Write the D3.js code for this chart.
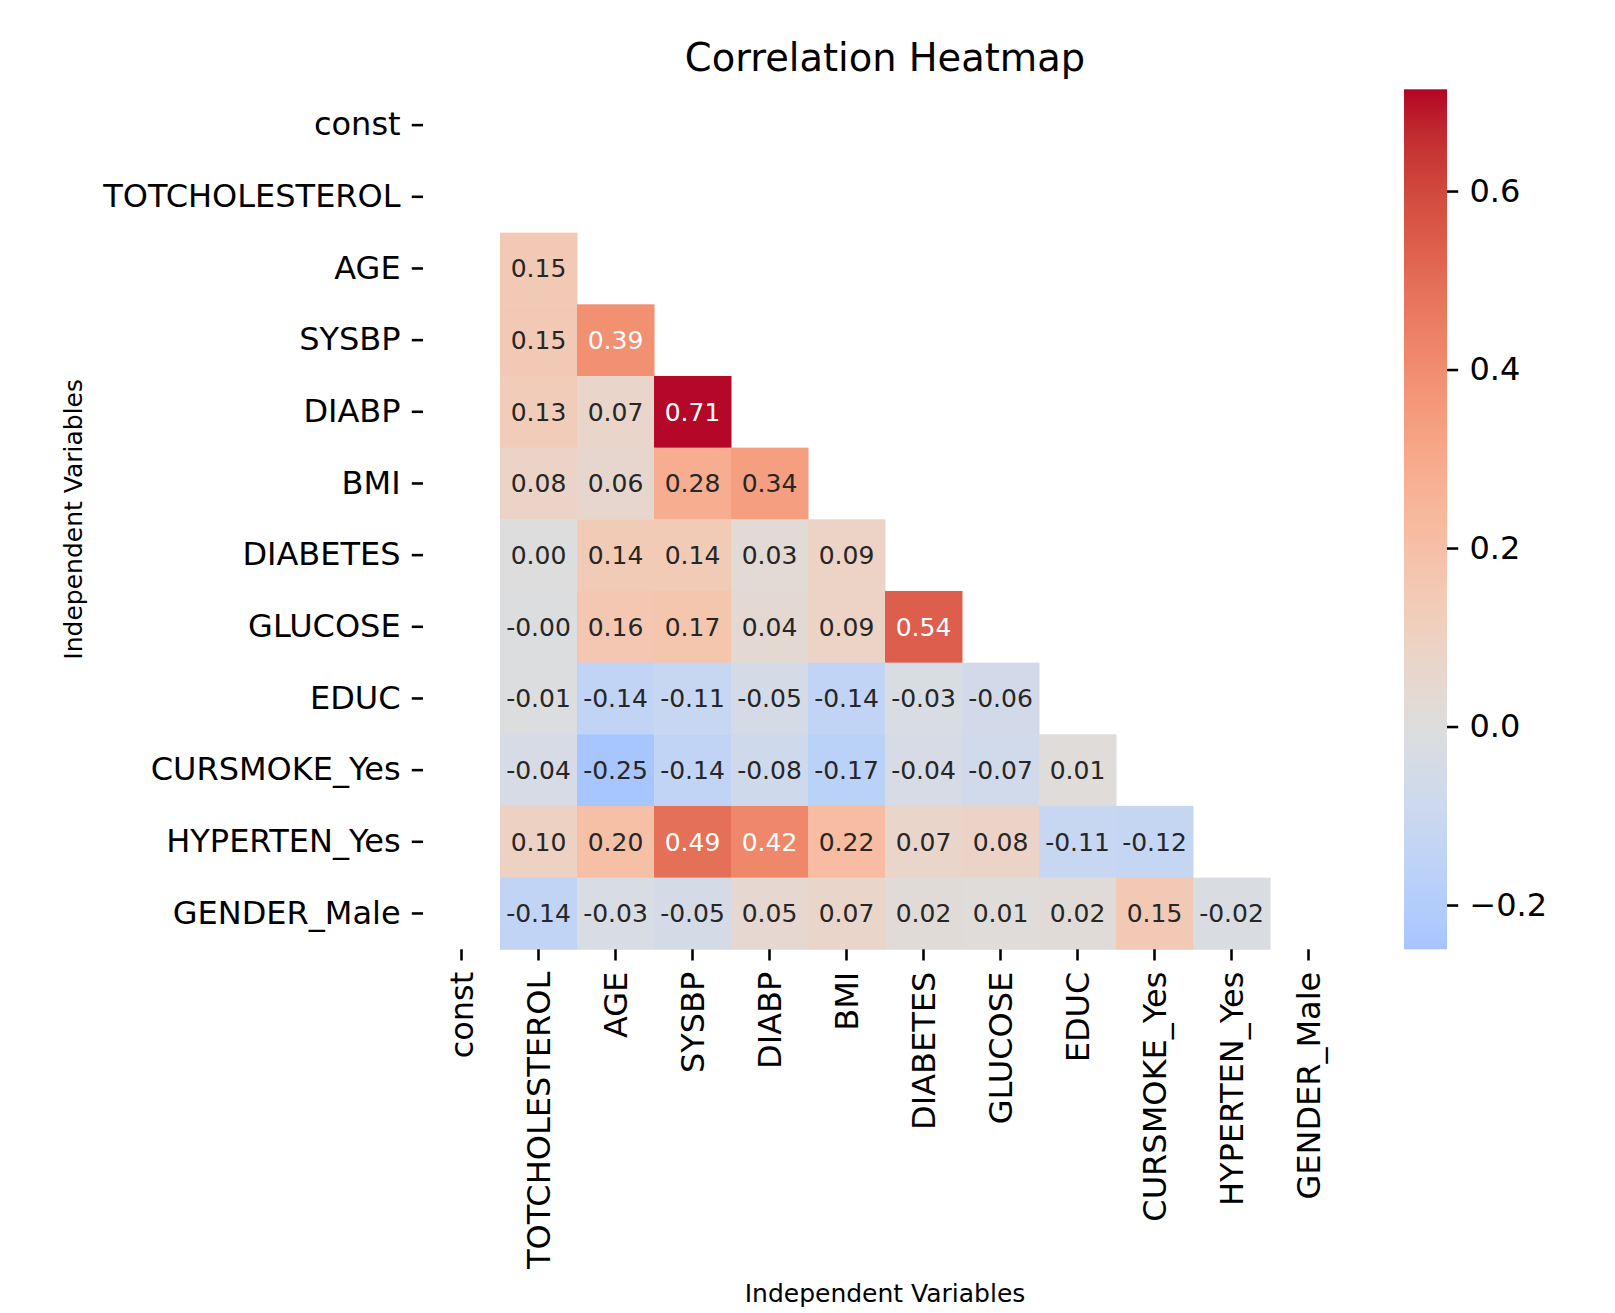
<!DOCTYPE html>
<html>
<head>
<meta charset="utf-8">
<script src="https://cdn.jsdelivr.net/npm/d3@7"></script>
<style>
  body { margin: 0; background: #fff; }
  text { font-family: "DejaVu Sans", sans-serif; }
</style>
</head>
<body>
<svg id="chart" width="1615" height="1313"></svg>
<script>
// ---------- data ----------
const variables = ["const","TOTCHOLESTEROL","AGE","SYSBP","DIABP","BMI","DIABETES","GLUCOSE","EDUC","CURSMOKE_Yes","HYPERTEN_Yes","GENDER_Male"];
// lower-triangle values per row (columns TOTCHOLESTEROL .. row-1); const column is empty
const rowAGE        = [0.15];
const rowSYSBP      = [0.15, 0.39];
const rowDIABP      = [0.13, 0.07, 0.71];
const rowBMI        = [0.08, 0.06, 0.28, 0.34];
const rowDIABETES   = [0.00, 0.14, 0.14, 0.03, 0.09];
const rowGLUCOSE    = [-0.004, 0.16, 0.17, 0.04, 0.09, 0.54];
const rowEDUC       = [-0.01, -0.14, -0.11, -0.05, -0.14, -0.03, -0.06];
const rowCURSMOKE   = [-0.04, -0.25, -0.14, -0.08, -0.17, -0.04, -0.07, 0.01];
const rowHYPERTEN   = [0.10, 0.20, 0.49, 0.42, 0.22, 0.07, 0.08, -0.11, -0.12];
const rowGENDER     = [-0.14, -0.03, -0.05, 0.05, 0.07, 0.02, 0.01, 0.02, 0.15, -0.02];
const colorbarTicks = [-0.2, 0.0, 0.2, 0.4, 0.6];
const colorDomain = [-0.2496, 0.714];   // observed data range (vmin, vmax)
const titleText = "Correlation Heatmap";
const xLabel = "Independent Variables";
const yLabel = "Independent Variables";

const rows = {
  "AGE": rowAGE, "SYSBP": rowSYSBP, "DIABP": rowDIABP, "BMI": rowBMI,
  "DIABETES": rowDIABETES, "GLUCOSE": rowGLUCOSE, "EDUC": rowEDUC,
  "CURSMOKE_Yes": rowCURSMOKE, "HYPERTEN_Yes": rowHYPERTEN, "GENDER_Male": rowGENDER
};
const cells = [];
Object.keys(rows).forEach(r => {
  rows[r].forEach((v, j) => cells.push({ row: r, col: variables[j + 1], value: v }));
});

// ---------- coolwarm colormap (Moreland) ----------
const coolwarmTable = [
 [59,76,192],[68,90,204],[77,104,215],[87,117,225],[98,130,234],[108,142,241],[119,154,247],[130,165,251],
 [141,176,254],[152,185,255],[163,194,255],[174,201,253],[184,208,249],[194,213,244],[204,217,238],[213,219,230],
 [221,221,221],[229,216,209],[236,211,197],[241,204,184],[245,196,172],[247,187,160],[247,177,148],[247,166,135],
 [244,154,123],[241,141,111],[236,127,99],[229,112,88],[222,96,77],[213,80,66],[203,62,56],[192,40,47],[180,4,38]
];
function coolwarm(t) {
  t = Math.max(0, Math.min(1, t));
  const n = coolwarmTable.length - 1;
  const i = Math.min(n - 1, Math.floor(t * n));
  const f = t * n - i;
  const a = coolwarmTable[i], b = coolwarmTable[i + 1];
  return [0,1,2].map(k => a[k] + (b[k] - a[k]) * f);
}
// seaborn center=0 re-centering
const vrange = Math.max(colorDomain[1], -colorDomain[0]);
const norm = d3.scaleLinear().domain([-vrange, vrange]).range([0, 1]);
function colorRGB(v) { return coolwarm(norm(v)); }
function color(v) { const c = colorRGB(v); return d3.rgb(c[0], c[1], c[2]).formatHex(); }
function textColor(v) {
  const lum = colorRGB(v).map(c => {
    c = c / 255; return c <= 0.03928 ? c / 12.92 : Math.pow((c + 0.055) / 1.055, 2.4);
  });
  const L = 0.2126 * lum[0] + 0.7152 * lum[1] + 0.0722 * lum[2];
  return L > 0.408 ? "#262626" : "#ffffff";
}

// ---------- layout ----------
const svg = d3.select("#chart");
const gridLeft = 423, gridRight = 1347, gridTop = 89.3, gridBottom = 949.3;
const tickLen = 11.2, tickPad = 11.2, tickW = 2.56;

const x = d3.scaleBand().domain(variables).range([gridLeft, gridRight]).padding(0);
const y = d3.scaleBand().domain(variables).range([gridTop, gridBottom]).padding(0);

// cells
svg.append("g").selectAll("rect").data(cells).join("rect")
  .attr("x", d => x(d.col)).attr("y", d => y(d.row))
  .attr("width", x.bandwidth() + 0.5).attr("height", y.bandwidth() + 0.5)
  .attr("fill", d => color(d.value));

svg.append("g").selectAll("text").data(cells).join("text")
  .attr("x", d => x(d.col) + x.bandwidth() / 2)
  .attr("y", d => y(d.row) + y.bandwidth() / 2)
  .attr("dy", "0.36em")
  .attr("text-anchor", "middle")
  .attr("font-size", 25)
  .attr("fill", d => textColor(d.value))
  .text(d => d.value.toFixed(2));

// y axis
const yAxis = svg.append("g").attr("transform", `translate(${gridLeft},0)`)
  .call(d3.axisLeft(y).tickSize(tickLen).tickPadding(tickPad));
yAxis.select(".domain").remove();
yAxis.selectAll(".tick line").attr("stroke", "#000").attr("stroke-width", tickW);
yAxis.selectAll(".tick text").attr("font-size", 32).attr("fill", "#000")
  .style("font-family", "DejaVu Sans");

// x axis
const xAxis = svg.append("g").attr("transform", `translate(0,${gridBottom})`)
  .call(d3.axisBottom(x).tickSize(tickLen).tickPadding(tickPad));
xAxis.select(".domain").remove();
xAxis.selectAll(".tick line").attr("stroke", "#000").attr("stroke-width", tickW);
xAxis.selectAll(".tick text").attr("font-size", 32).attr("fill", "#000")
  .style("font-family", "DejaVu Sans")
  .attr("transform", "rotate(-90)")
  .attr("x", -(tickLen + tickPad)).attr("y", 0).attr("dy", "0.35em")
  .attr("text-anchor", "end");

// title & axis labels
svg.append("text").attr("x", (gridLeft + gridRight) / 2).attr("y", 71)
  .attr("text-anchor", "middle").attr("font-size", 38.4).attr("fill", "#000").text(titleText);
svg.append("text").attr("x", (gridLeft + gridRight) / 2).attr("y", 1302)
  .attr("text-anchor", "middle").attr("font-size", 25).attr("fill", "#000").text(xLabel);
svg.append("text").attr("transform", `translate(81.5,${(gridTop + gridBottom) / 2}) rotate(-90)`)
  .attr("text-anchor", "middle").attr("font-size", 25).attr("fill", "#000").text(yLabel);

// colorbar
const cbLeft = 1404, cbWidth = 43;
const cbScale = d3.scaleLinear().domain(colorDomain).range([gridBottom, gridTop]);
const defs = svg.append("defs");
const grad = defs.append("linearGradient").attr("id", "cbgrad")
  .attr("x1", 0).attr("y1", 1).attr("x2", 0).attr("y2", 0);
d3.range(0, 1.0001, 1 / 64).forEach(t => {
  const v = colorDomain[0] + t * (colorDomain[1] - colorDomain[0]);
  grad.append("stop").attr("offset", t).attr("stop-color", color(v));
});
svg.append("rect").attr("x", cbLeft).attr("y", gridTop)
  .attr("width", cbWidth).attr("height", gridBottom - gridTop).attr("fill", "url(#cbgrad)");
const cbAxis = svg.append("g").attr("transform", `translate(${cbLeft + cbWidth},0)`)
  .call(d3.axisRight(cbScale).tickValues(colorbarTicks).tickSize(tickLen).tickPadding(tickPad)
    .tickFormat(d => d3.format(".1f")(d).replace("-", "\u2212")));
cbAxis.select(".domain").remove();
cbAxis.selectAll(".tick line").attr("stroke", "#000").attr("stroke-width", tickW);
cbAxis.selectAll(".tick text").attr("font-size", 32).attr("fill", "#000")
  .style("font-family", "DejaVu Sans");
</script>
</body>
</html>
